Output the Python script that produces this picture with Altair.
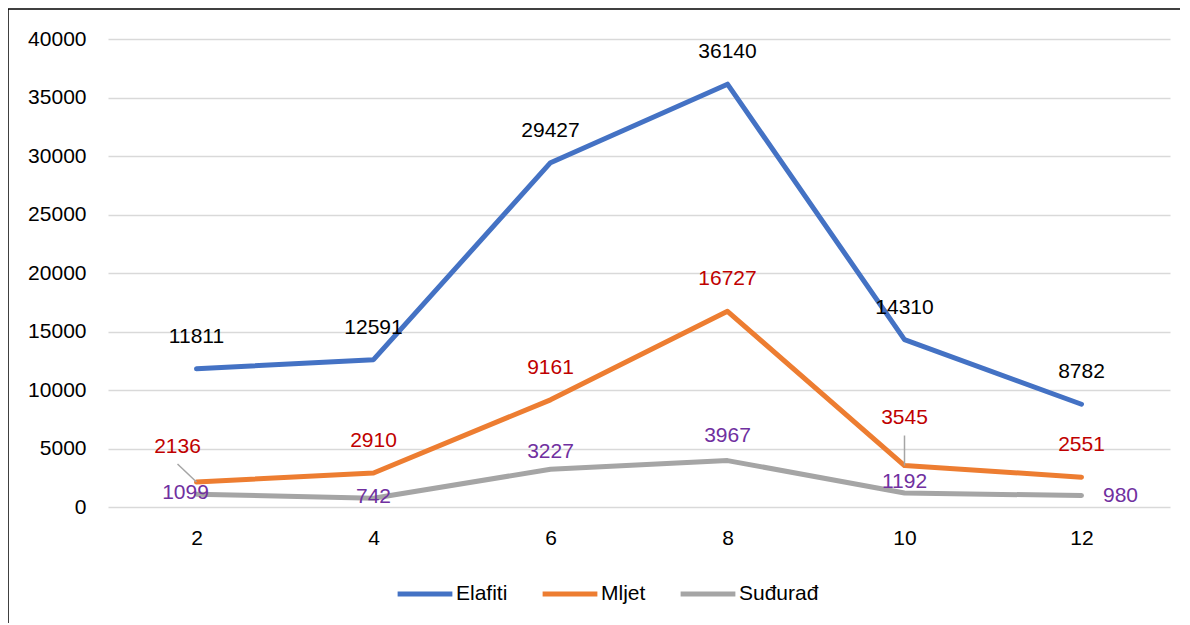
import altair as alt
import pandas as pd

months = [2, 4, 6, 8, 10, 12]
series_names = ["Elafiti", "Mljet", "Suđurađ"]
elafiti = [11811, 12591, 29427, 36140, 14310, 8782]
mljet = [2136, 2910, 9161, 16727, 3545, 2551]
sudurad = [1099, 742, 3227, 3967, 1192, 980]
y_ticks = [0, 5000, 10000, 15000, 20000, 25000, 30000, 35000, 40000]

line_colors = ["#4472C4", "#ED7D31", "#A5A5A5"]
FONT = "Liberation Sans"
FS = 21

rows = []
for name, vals in zip(series_names, [elafiti, mljet, sudurad]):
    for m, v in zip(months, vals):
        rows.append({"series": name, "month": m, "value": v})
df = pd.DataFrame(rows)

x = alt.X("month:O", scale=alt.Scale(type="point", domain=months, padding=0.5),
          axis=alt.Axis(title=None, domain=False, ticks=False, grid=False,
                        labelPadding=20, labelFontSize=FS, labelFont=FONT,
                        labelColor="#000000", labelAngle=0))
y = alt.Y("value:Q", scale=alt.Scale(domain=[0, 40000], nice=False),
          axis=alt.Axis(title=None, domain=False, ticks=False, values=y_ticks,
                        format="d",
                        grid=True, gridColor="#D9D9D9", gridWidth=1.5,
                        labelPadding=22, labelFontSize=FS, labelFont=FONT,
                        labelColor="#000000", minExtent=95, maxExtent=95))

base = alt.Chart(df)

lines = base.mark_line(strokeWidth=5, strokeCap="round", strokeJoin="round").encode(
    x=x, y=y,
    color=alt.Color("series:N",
                    scale=alt.Scale(domain=series_names, range=line_colors),
                    legend=alt.Legend(title=None, orient="none", direction="horizontal",
                                      legendX=287, legendY=525,
                                      symbolType="stroke", symbolSize=3000,
                                      symbolStrokeWidth=5, labelFontSize=FS,
                                      labelFont=FONT, labelColor="#000000",
                                      labelOffset=1, columnPadding=24)),
    order="month:O",
)

def labels(name, color, dy, dx=0, flt=None):
    c = base.transform_filter(alt.datum.series == name)
    if flt is not None:
        c = c.transform_filter(flt)
    return c.mark_text(font=FONT, fontSize=FS, color=color, dy=dy, dx=dx).encode(
        x=x, y=y, text="value:Q")

special_m = (alt.datum.month == 2) | (alt.datum.month == 10)
layers = [
    labels("Elafiti", "#000000", -32),
    labels("Mljet", "#C00000", -32, flt=~special_m),
    labels("Mljet", "#C00000", -35, dx=-19, flt=alt.datum.month == 2),
    labels("Mljet", "#C00000", -48, flt=alt.datum.month == 10),
    labels("Suđurađ", "#7030A0", -1, dx=-11, flt=alt.datum.month == 2),
    labels("Suđurađ", "#7030A0", -1, flt=alt.datum.month == 4),
    labels("Suđurađ", "#7030A0", -17, flt=alt.datum.month == 6),
    labels("Suđurađ", "#7030A0", -25, flt=alt.datum.month == 8),
    labels("Suđurađ", "#7030A0", -11, flt=alt.datum.month == 10),
    labels("Suđurađ", "#7030A0", 0, dx=39, flt=alt.datum.month == 12),
]

# leader lines for moved labels (Mljet at months 2 and 10)
lead2 = base.transform_filter((alt.datum.series == "Mljet") & (alt.datum.month == 2)).mark_rule(
    color="#A5A5A5", strokeWidth=1.5, x2Offset=-19, y2Offset=-18).encode(
    x=x, y=y, x2=alt.X2("month:O"), y2=alt.Y2("value:Q"))
lead10 = base.transform_filter((alt.datum.series == "Mljet") & (alt.datum.month == 10)).mark_rule(
    color="#A5A5A5", strokeWidth=1.5, y2Offset=-30).encode(
    x=x, y=y, y2=alt.Y2("value:Q"))

border_df = pd.DataFrame({"k": [0]})
border_top = alt.Chart(border_df).mark_rule(color="#000000", strokeWidth=1.5).encode(
    x=alt.value(-100), x2=alt.value(1300), y=alt.value(-30))
border_left = alt.Chart(border_df).mark_rule(color="#000000", strokeWidth=1.5).encode(
    x=alt.value(-100), y=alt.value(-30), y2=alt.value(800))

chart = alt.layer(border_top, border_left, lines, lead2, lead10, *layers).properties(
    width=1062, height=468,
    autosize=alt.AutoSizeParams(type="none"),
    padding={"left": 100, "top": 31, "right": 10, "bottom": 116},
    background="#FFFFFF",
).configure_view(stroke=None)

chart.save("out.html", embed_options={"renderer": "svg", "actions": False})
